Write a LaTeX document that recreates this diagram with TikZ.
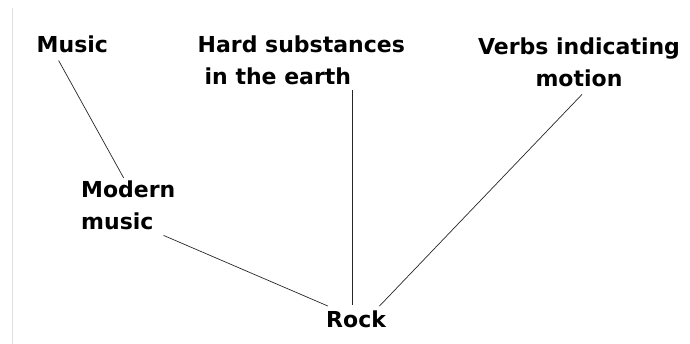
\documentclass[tikz,border=0pt]{standalone}
\usepackage{fontspec}
\setmainfont{DejaVu Sans}
\usetikzlibrary{calc}
\tikzset{
  word/.style = {inner sep=0pt, font=\fontsize{22}{32}\selectfont\bfseries},
  link/.style = {draw=black!85, line width=0.7pt},
  edge/.style = {draw=black!12, line width=0.8pt},
}

\begin{document}
\begin{tikzpicture}[x=1pt, y=-1pt]
\useasboundingbox (0,0) rectangle (690,344);
\draw[edge] (12,8) -- (12,344);

\node[word, anchor=base west] (music) at (36.5,52.5) {Music};
\node[word, align=left, anchor=north west] (hard) at (197.5,35.5)
     {Hard substances\\\hspace*{7pt}in the earth};
\node[word, align=center, anchor=north] (verbs) at (579,38)
     {Verbs indicating\\motion};
\node[word, align=left, anchor=north west] (modern) at (81,181)
     {Modern\\music};
\node[word, anchor=base west] (rock) at (326,327) {Rock};

\draw[link] ([shift={(-13.7pt,-7.5pt)}]music.south) -- ([shift={(-4.6pt,3pt)}]modern.north);
\draw[link] ([shift={(-12pt,-5pt)}]modern.south east) -- ([shift={(2pt,4pt)}]rock.north west);
\draw[link] ($(rock.north |- hard.south)+(-4pt,-5pt)$) -- ([shift={(-4pt,5pt)}]rock.north);
\draw[link] ([shift={(3pt,-7pt)}]verbs.south) -- ([shift={(-6.7pt,4pt)}]rock.north east);
\end{tikzpicture}
\end{document}
